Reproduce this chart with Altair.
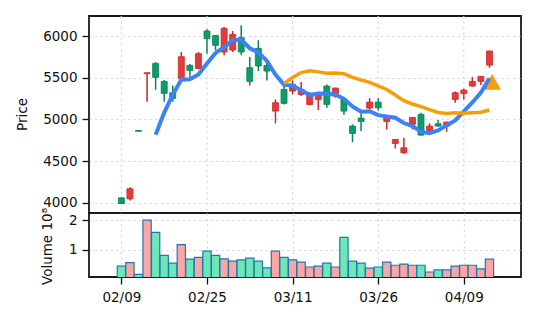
import altair as alt
import pandas as pd

# ---- data (index = trading day) ----
opens  = [4060, 4048, 4868, 5548, 5672, 5456, 5320, 5492, 5648, 5612,
          6060, 6008, 5808, 5832, 5980, 5620, 5852, 5648, 5100, 5360,
          5340, 5300, 5180, 5240, 5400, 5280, 5240, 4920, 5016, 5136,
          5208, 4976, 4712, 4600, 4940, 5060, 4868, 4948, 4920, 5240,
          5312, 5400, 5456, 5652]
highs  = [4064, 4188, 4870, 5564, 5688, 5472, 5408, 5808, 5664, 5808,
          6080, 6010, 6108, 6060, 6128, 5748, 5948, 5700, 5240, 5400,
          5468, 5448, 5328, 5312, 5420, 5380, 5260, 4940, 5072, 5256,
          5256, 5020, 4764, 4776, 5028, 5080, 4952, 4992, 4972, 5336,
          5368, 5508, 5520, 5824]
lows   = [3988, 4028, 4856, 5212, 5356, 5212, 5212, 5488, 5508, 5600,
          5788, 5828, 5768, 5808, 5768, 5408, 5580, 5468, 4952, 5180,
          5300, 5280, 5168, 5112, 5140, 5260, 5056, 4728, 4860, 5120,
          5108, 4880, 4652, 4588, 4880, 4808, 4852, 4912, 4852, 5200,
          5240, 5392, 5412, 5620]
closes = [3992, 4168, 4858, 5560, 5504, 5312, 5252, 5752, 5588, 5788,
          5968, 5888, 6092, 6020, 5808, 5456, 5640, 5580, 5200, 5192,
          5420, 5360, 5288, 5292, 5180, 5376, 5100, 4832, 4976, 5208,
          5140, 5016, 4760, 4660, 5024, 4812, 4920, 4920, 4968, 5320,
          5352, 5456, 5516, 5820]
volumes = [0.44, 0.56, 0.16, 2.01, 1.59, 0.81, 0.54, 1.17, 0.68, 0.74,
           0.95, 0.81, 0.69, 0.61, 0.65, 0.71, 0.61, 0.38, 0.95, 0.74,
           0.65, 0.58, 0.41, 0.44, 0.54, 0.41, 1.42, 0.61, 0.54, 0.37,
           0.41, 0.58, 0.47, 0.51, 0.47, 0.47, 0.24, 0.31, 0.31, 0.44,
           0.47, 0.47, 0.35, 0.68]
ma5_start = 4
ma5 = [4817, 5081, 5298, 5476, 5482, 5538, 5670, 5797, 5865, 5951,
       5955, 5853, 5803, 5701, 5537, 5414, 5406, 5350, 5292, 5310,
       5308, 5299, 5247, 5156, 5093, 5098, 5051, 5034, 5020, 4957,
       4920, 4854, 4835, 4867, 4929, 4988, 5096, 5203, 5322, 5493]
ma20_start = 19
ma20 = [5431, 5503, 5562, 5583, 5570, 5554, 5557, 5549, 5503, 5473,
        5444, 5402, 5359, 5292, 5224, 5185, 5153, 5117, 5084, 5072,
        5079, 5075, 5080, 5087, 5113]
tick_idx = [0, 10, 20, 30, 40]
tick_labels = ["02/09", "02/25", "03/11", "03/26", "04/09"]
price_ticks = [4000, 4500, 5000, 5500, 6000]
volume_ticks = [1, 2]
signal_idx = [43.3]
signal_price = [5450]

RED, RED_EDGE = "#e23b3b", "#d02626"
GREEN, GREEN_EDGE = "#0f9a68", "#07845a"
VOL_UP, VOL_DOWN, VOL_EDGE = "#fca5a5", "#6ee7b7", "#1f77b4"
BLUE, ORANGE = "#3b82f6", "#f59e0b"
GRID = "#d6d6d6"
FONT = "DejaVu Sans"

n = len(closes)
df = pd.DataFrame({
    "idx": list(range(n)), "open": opens, "high": highs, "low": lows,
    "close": closes, "volume": volumes,
})
df["dir"] = ["up" if c >= o else "down" for o, c in zip(opens, closes)]
df["vdir"] = ["vup" if c >= o else "vdown" for o, c in zip(opens, closes)]
df["zero"] = 0

ma5_df = pd.DataFrame({"idx": list(range(ma5_start, ma5_start + len(ma5))), "v": ma5})
ma20_df = pd.DataFrame({"idx": list(range(ma20_start, ma20_start + len(ma20))), "v": ma20})
sig_df = pd.DataFrame({"idx": signal_idx, "v": signal_price})
grid_df = pd.DataFrame({"idx": tick_idx})

x_scale = alt.Scale(domain=[-3.2, 46.1], nice=False, zero=False)
y_price_scale = alt.Scale(domain=[3878, 6240], nice=False, zero=False)
label_expr = " : ".join(
    f"datum.value == {v} ? '{t}'" for v, t in zip(tick_idx, tick_labels)
) + " : ''"

x_top = alt.X("idx:Q", scale=x_scale, axis=None)
price_axis = alt.Axis(values=price_ticks, format="d", title="Price",
                      titleX=-60, titleY=98, grid=True)

fill_scale = alt.Scale(domain=["up", "down"], range=[RED, GREEN])
edge_scale = alt.Scale(domain=["up", "down"], range=[RED_EDGE, GREEN_EDGE])

vgrid = alt.Chart(grid_df).mark_rule(color=GRID, strokeDash=[2, 3.5], strokeWidth=1.2).encode(
    x=x_top)
base = alt.Chart(df)
wick = base.mark_rule(strokeWidth=1.5).encode(
    x=x_top, y=alt.Y("low:Q", scale=y_price_scale, axis=price_axis),
    y2="high:Q",
    color=alt.Color("dir:N", scale=edge_scale, legend=None),
)
body = base.mark_bar(size=6, strokeWidth=0.8).encode(
    x=x_top, y=alt.Y("open:Q", scale=y_price_scale, axis=price_axis), y2="close:Q",
    fill=alt.Fill("dir:N", scale=fill_scale, legend=None),
    stroke=alt.Stroke("dir:N", scale=edge_scale, legend=None),
)
sig = alt.Chart(sig_df).mark_point(shape="triangle-up", filled=True, size=330,
                                   color=ORANGE, opacity=1).encode(x="idx:Q", y="v:Q")
line5 = alt.Chart(ma5_df).mark_line(color=BLUE, strokeWidth=4).encode(x="idx:Q", y="v:Q")
line20 = alt.Chart(ma20_df).mark_line(color=ORANGE, strokeWidth=3.5).encode(x="idx:Q", y="v:Q")

price = alt.layer(vgrid, wick, body, sig, line5, line20).properties(width=432, height=197)

vol = alt.Chart(df).mark_bar(size=8.3, stroke=VOL_EDGE, strokeWidth=1.2, clip=True).encode(
    x=alt.X("idx:Q", scale=x_scale,
            axis=alt.Axis(values=tick_idx, labelExpr=label_expr, title=None, grid=True,
                          labelPadding=6)),
    y=alt.Y("volume:Q", scale=alt.Scale(domain=[0.07, 2.25], nice=False, zero=False),
            axis=alt.Axis(values=volume_ticks, title="Volume  10⁸", titleX=-35, titleY=33,
                          grid=True)),
    y2=alt.Y2("zero:Q"),
    fill=alt.Fill("vdir:N", scale=alt.Scale(domain=["vup", "vdown"],
                                            range=[VOL_UP, VOL_DOWN]), legend=None),
).properties(width=432, height=64)

chart = alt.vconcat(price, vol, spacing=0, bounds="flush").resolve_scale(
    fill="independent", stroke="independent", color="independent"
).properties(
    padding={"left": 14, "top": 14, "right": 10, "bottom": 5}
).configure(font=FONT).configure_view(
    stroke="#1a1a1a", strokeWidth=1.8
).configure_axis(
    labelFont=FONT, labelFontSize=13.5, labelColor="#111", labelPadding=5,
    titleFont=FONT, titleFontSize=13.5, titleFontWeight="normal", titleColor="#111",
    tickColor="#111", tickSize=7, tickWidth=1.3, domain=False,
    gridColor=GRID, gridDash=[2, 3.5], gridWidth=1.2,
)

chart.save("out.html", embed_options={"renderer": "svg", "actions": False})
